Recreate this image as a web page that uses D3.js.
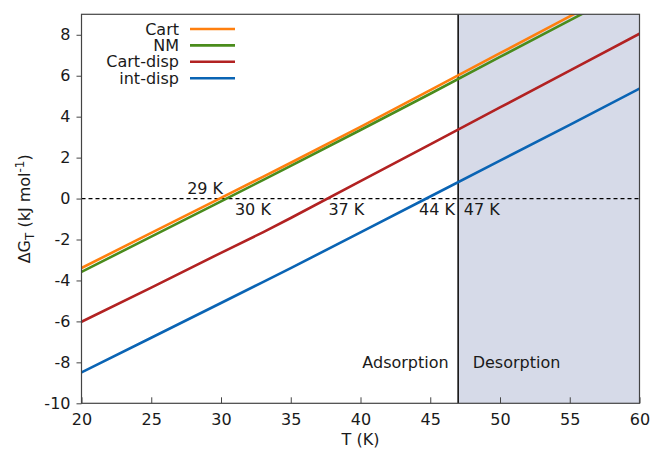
<html lang="en">
<head>
<meta charset="UTF-8">
<title>Delta G vs T</title>
<script src="https://d3js.org/d3.v7.min.js"></script>
<style>
  body { margin: 0; background: #fff; }
  text { font-family: "DejaVu Sans", sans-serif; fill: #1a1a1a; }
  .tick line { stroke: #444; }
</style>
</head>
<body>
<svg width="654" height="453"></svg>
<script>
// temperatures (K)
var temps = [20, 25, 30, 33, 35, 40, 45, 50, 55, 60];

// dG_T (kJ/mol)
var cart     = [-3.39, -1.68, 0.03, 1.06, 1.75, 3.50, 5.30, 7.10, 8.90, 10.70];
var nm       = [-3.58, -1.86, -0.14, 0.90, 1.60, 3.35, 5.12, 6.92, 8.70, 10.50];
var cartDisp = [-6.02, -4.35, -2.65, -1.65, -0.95, 0.85, 2.65, 4.45, 6.25, 8.05];
var intDisp  = [-8.49, -6.80, -5.10, -4.08, -3.40, -1.65, 0.10, 1.85, 3.60, 5.37];

var seriesNames = ["Cart", "NM", "Cart-disp", "int-disp"];
var seriesColors = ["#ff7f0e", "#4a8c1c", "#b22222", "#0a64b4"];
var seriesValues = [cart, nm, cartDisp, intDisp];

var xTicks = [20, 25, 30, 35, 40, 45, 50, 55, 60];
var yTicks = [-10, -8, -6, -4, -2, 0, 2, 4, 6, 8];

var tDesorb = 47;
// zero-crossing labels: [text, T, value, anchor]
var crossLabels = [
  ["29 K", 30.15, 0.22, "end"],
  ["30 K", 31.0, -0.8, "start"],
  ["37 K", 37.7, -0.8, "start"],
  ["44 K", 44.2, -0.8, "start"],
  ["47 K", 47.4, -0.8, "start"]
];

var svg = d3.select("svg");
var pLeft = 81.5, pRight = 639.5, pTop = 14.3, pBottom = 403.3;

var x = d3.scaleLinear().domain([20, 60]).range([pLeft, pRight]);
var y = d3.scaleLinear().domain([-10, 9]).range([pBottom, pTop]);

svg.append("clipPath").attr("id", "clip")
  .append("rect")
  .attr("x", pLeft).attr("y", pTop)
  .attr("width", pRight - pLeft).attr("height", pBottom - pTop);

// desorption region
svg.append("rect")
  .attr("x", x(tDesorb)).attr("y", pTop)
  .attr("width", x(60) - x(tDesorb)).attr("height", pBottom - pTop)
  .attr("fill", "#d6dae8");

// zero line
svg.append("line")
  .attr("x1", x(20)).attr("x2", x(60))
  .attr("y1", y(0)).attr("y2", y(0))
  .attr("stroke", "#000").attr("stroke-width", 1.3)
  .attr("stroke-dasharray", "4,3");

// vertical separator
svg.append("line")
  .attr("x1", x(tDesorb)).attr("x2", x(tDesorb))
  .attr("y1", pTop).attr("y2", pBottom)
  .attr("stroke", "#111").attr("stroke-width", 1.6);

var line = d3.line()
  .x(function (d) { return x(d[0]); })
  .y(function (d) { return y(d[1]); });

var g = svg.append("g").attr("clip-path", "url(#clip)");
seriesValues.forEach(function (vals, i) {
  g.append("path")
    .datum(temps.map(function (t, j) { return [t, vals[j]]; }))
    .attr("fill", "none")
    .attr("stroke", seriesColors[i])
    .attr("stroke-width", 2.6)
    .attr("d", line);
});

// axes (plain hyphen for negatives, like the original)
var fmt = function (d) { return String(d); };
var xAxis = svg.append("g")
  .attr("transform", "translate(0," + pBottom + ")")
  .call(d3.axisBottom(x).tickValues(xTicks).tickFormat(fmt).tickSizeInner(-6).tickSizeOuter(0).tickPadding(10));
var yAxis = svg.append("g")
  .attr("transform", "translate(" + pLeft + ",0)")
  .call(d3.axisLeft(y).tickValues(yTicks).tickFormat(fmt).tickSizeInner(5).tickSizeOuter(0).tickPadding(6));
[xAxis, yAxis].forEach(function (a) {
  a.select(".domain").remove();
  a.selectAll("text").attr("font-size", 16).attr("font-family", "DejaVu Sans").attr("fill", "#1a1a1a");
});

// border
svg.append("rect")
  .attr("x", pLeft).attr("y", pTop)
  .attr("width", pRight - pLeft).attr("height", pBottom - pTop)
  .attr("fill", "none").attr("stroke", "#444").attr("stroke-width", 1.2);

// crossing labels
crossLabels.forEach(function (c) {
  svg.append("text")
    .attr("x", x(c[1])).attr("y", y(c[2]))
    .attr("text-anchor", c[3])
    .attr("font-size", 16)
    .text(c[0]);
});

// region labels
svg.append("text").attr("x", x(tDesorb) - 9.5).attr("y", y(-8.26))
  .attr("text-anchor", "end").attr("font-size", 16).text("Adsorption");
svg.append("text").attr("x", x(tDesorb) + 14.5).attr("y", y(-8.26))
  .attr("text-anchor", "start").attr("font-size", 16).text("Desorption");

// axis titles
svg.append("text")
  .attr("x", (pLeft + pRight) / 2).attr("y", 445)
  .attr("text-anchor", "middle").attr("font-size", 16)
  .text("T (K)");

var yl = svg.append("text")
  .attr("transform", "translate(30," + ((pTop + pBottom) / 2) + ") rotate(-90)")
  .attr("text-anchor", "middle").attr("font-size", 16);
yl.append("tspan").text("\u0394G");
yl.append("tspan").attr("font-size", 12).attr("dy", 4).text("T");
yl.append("tspan").attr("dy", -4).text(" (kJ mol");
yl.append("tspan").attr("font-size", 12).attr("dy", -6).text("-1");
yl.append("tspan").attr("dy", 6).text(")");

// legend
var legend = svg.append("g");
seriesNames.forEach(function (name, i) {
  var ly = 29 + i * 16.4;
  legend.append("text")
    .attr("x", 179).attr("y", ly).attr("dy", "0.35em")
    .attr("text-anchor", "end").attr("font-size", 16)
    .text(name);
  legend.append("line")
    .attr("x1", 190).attr("x2", 235)
    .attr("y1", ly).attr("y2", ly)
    .attr("stroke", seriesColors[i]).attr("stroke-width", 2.6);
});
</script>
</body>
</html>
